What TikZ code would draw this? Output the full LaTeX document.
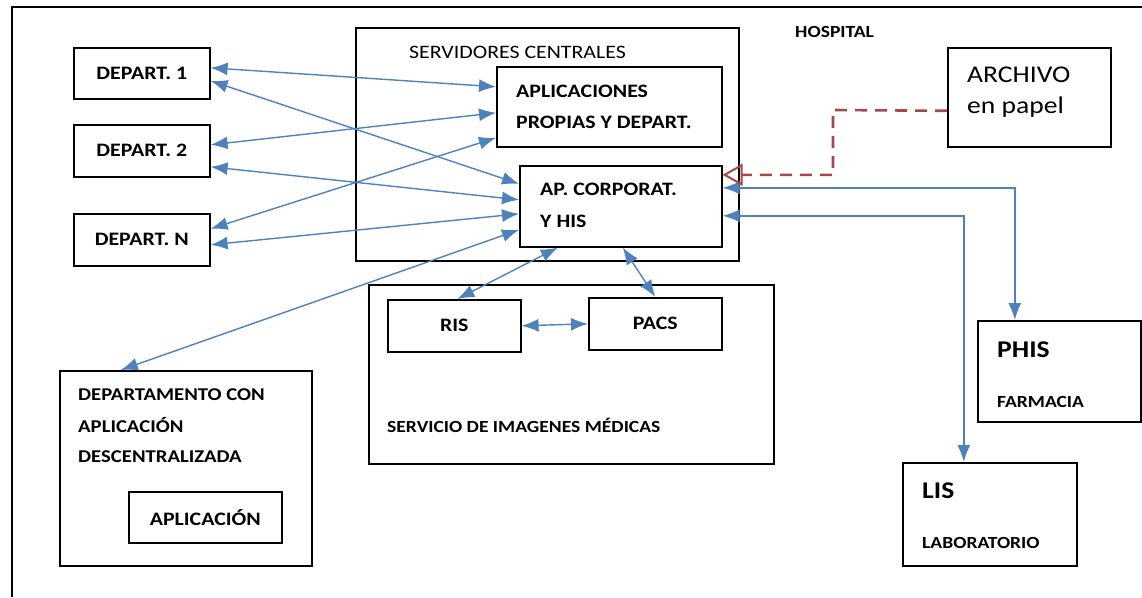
\documentclass[tikz,border=0pt]{standalone}
\usepackage{fontspec}
\setmainfont{Carlito}[FakeStretch=1.15]
\usetikzlibrary{arrows.meta,positioning}
\definecolor{linkblue}{RGB}{79,129,189}
\definecolor{paperred}{RGB}{165,72,72}

\tikzset{
  box/.style={draw=black, line width=1.6pt, rectangle, inner sep=0pt, anchor=north west,
    font=\fontsize{19}{23}\selectfont\bfseries},
  lbl/.style={font=\fontsize{19}{23}\selectfont\bfseries, inner sep=0pt, anchor=base west},
  small/.style={font=\fontsize{17}{20}\selectfont\bfseries, inner sep=0pt, anchor=base west},
  big/.style={font=\fontsize{24}{28}\selectfont, inner sep=0pt, anchor=base west},
  link/.style={draw=linkblue, line width=1.4pt,
    {Latex[length=17pt,width=13pt]}-{Latex[length=17pt,width=13pt]}},
  paper/.style={draw=paperred, line width=2.6pt, dash pattern=on 12pt off 8pt,
    -{Triangle[open,length=20pt,width=22pt,line width=2pt]}}
}

\begin{document}
\begin{tikzpicture}[x=1pt,y=-1pt]
\useasboundingbox (0,0) rectangle (1142,597);
% hospital frame
\draw[line width=1.2pt] (12,597) -- (12,7) -- (1142,7);
\node[small] (hosp) at (795,37) {HOSPITAL};

% departments
\node[box, minimum width=136pt, minimum height=51pt] (dep1) at (73,47) {DEPART. 1};
\node[box, minimum width=136pt, minimum height=52pt] (dep2) at (73,124) {DEPART. 2};
\node[box, minimum width=136pt, minimum height=52pt] (depN) at (73,213) {DEPART. N};

% central servers
\node[box, minimum width=383pt, minimum height=233pt] (serv) at (355,27) {};
\node[lbl, font=\fontsize{19}{23}\selectfont] (servtxt) at (409,58) {SERVIDORES CENTRALES};
\node[box, minimum width=225pt, minimum height=80pt] (apl) at (496,66) {};
\node[lbl] (apltxt) at (516,97) {APLICACIONES};
\node[lbl] (apltxtb) at (516,128) {PROPIAS Y DEPART.};
\node[box, minimum width=202pt, minimum height=81pt] (corp) at (519,165) {};
\node[lbl] (corptxt) at (540,195) {AP. CORPORAT.};
\node[lbl] (corptxtb) at (540,227) {Y HIS};

% paper archive
\node[box, minimum width=163pt, minimum height=99pt] (arch) at (947,47) {};
\node[big] (archtxt) at (967,82) {ARCHIVO};
\node[big] (archtxtb) at (967,113) {en papel};

% medical imaging
\node[box, minimum width=405pt, minimum height=179pt] (img) at (368,284) {};
\node[box, minimum width=133pt, minimum height=52pt] (ris) at (387,299) {RIS};
\node[box, minimum width=133pt, minimum height=52pt] (pacs) at (588,297) {PACS};
\node[small] (imgtxt) at (387,432) {SERVICIO DE IMAGENES MÉDICAS};

% decentralised department
\node[box, minimum width=252pt, minimum height=195pt] (desc) at (59,370) {};
\node[lbl, font=\fontsize{18}{22}\selectfont\bfseries] (desctxt) at (78,400) {DEPARTAMENTO CON};
\node[lbl, font=\fontsize{18}{22}\selectfont\bfseries] (desctxtb) at (78,432) {APLICACIÓN};
\node[lbl, font=\fontsize{18}{22}\selectfont\bfseries] (desctxtc) at (78,462) {DESCENTRALIZADA};
\node[box, minimum width=153pt, minimum height=51pt] (app) at (128,491) {APLICACIÓN};

% pharmacy and lab
\node[box, minimum width=163pt, minimum height=101pt] (phis) at (977,320) {};
\node[big, font=\fontsize{24}{28}\selectfont\bfseries] (phistxt) at (997,357) {PHIS};
\node[small] (phistxtb) at (997,407) {FARMACIA};
\node[box, minimum width=174pt, minimum height=103pt] (lis) at (902,462) {};
\node[big, font=\fontsize{24}{28}\selectfont\bfseries] (listxt) at (922,498) {LIS};
\node[small] (listxtb) at (922,548) {LABORATORIO};

% links
\draw[link] ([yshift=5.5pt]dep1.east) -- ([yshift=20pt]apl.west);
\draw[link] ([yshift=-7.5pt]dep1.east) -- ([yshift=22.5pt]corp.west);
\draw[link] ([yshift=6pt]dep2.east) -- ([yshift=-6pt]apl.west);
\draw[link] ([yshift=-16pt]dep2.east) -- ([yshift=6.5pt]corp.west);
\draw[link] ([yshift=11pt]depN.east) -- ([yshift=-31pt]apl.west);
\draw[link] ([yshift=-5pt]depN.east) -- ([yshift=-7.5pt]corp.west);
\draw[link] ([xshift=-65pt]desc.north) -- ([yshift=-23.5pt]corp.west);
\draw[link] ([xshift=-63pt]corp.south) -- ([xshift=3pt]ris.north);
\draw[link] ([xshift=2pt]corp.south) -- (pacs.north);
\draw[link] (ris.east) -- (pacs.west);
\draw[link] ([yshift=18.5pt]corp.east) -| ([xshift=-44.5pt]phis.north);
\draw[link] ([yshift=-9.5pt]corp.east) -| ([xshift=-26pt]lis.north);
\coordinate (bend) at (833,110);
\draw[paper] ([yshift=-13.5pt]arch.west) -- (bend) |- ([yshift=31.5pt]corp.east);
\end{tikzpicture}
\end{document}
